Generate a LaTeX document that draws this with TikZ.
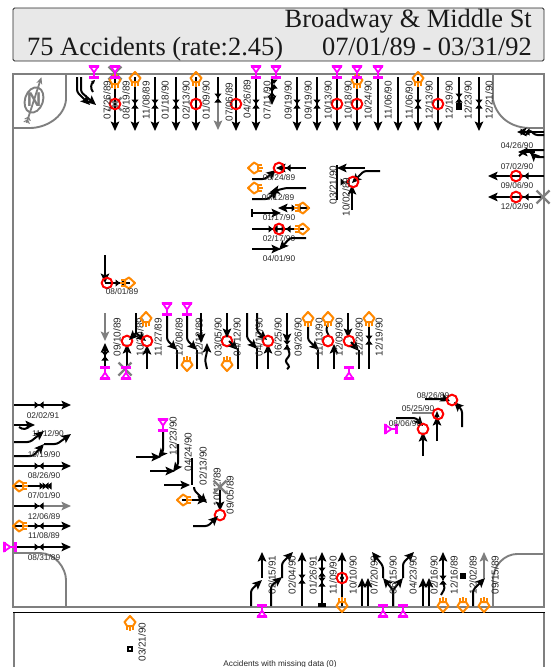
\documentclass[tikz,border=0pt]{standalone}
\usepackage{fontspec}
\setmainfont{Liberation Sans}
\newfontfamily\ttlfont{Liberation Serif}
\usetikzlibrary{arrows.meta}
\definecolor{og}{HTML}{FF8800}
\definecolor{mg}{HTML}{FF00FF}
\definecolor{fr}{HTML}{7F7F7F}
\newcounter{lb}
\tikzset{
 pl/.style={line width=2pt,black,rounded corners=2.5pt},
 ac/.style={pl,-{Stealth[length=9.5pt,width=8.5pt,inset=2pt]}},
 gac/.style={line width=2pt,fr,-{Stealth[length=9.5pt,width=8.5pt,inset=2pt]}},
 frame/.style={line width=1.9pt,fr},
 rlab/.style={inner sep=0pt,rotate=90,font=\fontsize{10}{10}\selectfont,text=black!85},
 hlab/.style={inner sep=0pt,font=\fontsize{8.3}{9}\selectfont,text=black!85},
 ttl/.style={inner sep=0pt,font=\ttlfont\fontsize{26.4}{26}\selectfont,text=black!90},
}
\newcommand\myRL[3]{\stepcounter{lb}\node[rlab] (r\thelb) at (#1,#2) {#3};}
\newcommand\myHL[3]{\stepcounter{lb}\node[hlab] (h\thelb) at (#1,#2) {#3};}
\newcommand\myTV[2]{\fill[black] (#1-3.6,#2-4.5) -- (#1+3.6,#2-4.5) -- (#1,#2) -- cycle (#1-3.6,#2+4.5) -- (#1+3.6,#2+4.5) -- (#1,#2) -- cycle;}
\newcommand\myTH[2]{\fill[black] (#1-4.5,#2-3.6) -- (#1-4.5,#2+3.6) -- (#1,#2) -- cycle (#1+4.5,#2-3.6) -- (#1+4.5,#2+3.6) -- (#1,#2) -- cycle;}
\newcommand\myRC[2]{\draw[red,line width=2pt] (#1,#2) circle[radius=5.3pt];}
\newcommand\myGX[2]{\draw[fr,line width=2.2pt] (#1-6.5,#2-6.5) -- (#1+6.5,#2+6.5) (#1-6.5,#2+6.5) -- (#1+6.5,#2-6.5);}
\newcommand\myOG[3]{\begin{scope}[shift={(#1,#2)},rotate=#3]
 \draw[og,line width=2pt,line join=round] (0,-8) -- (5.5,-2) -- (3,2) -- (-3,2) -- (-5.5,-2) -- cycle;
 \draw[og,line width=2.2pt] (-3,2) -- (-3,6) (0,2) -- (0,7) (3,2) -- (3,6);
 \end{scope}}
\newcommand\myPM[3]{\begin{scope}[shift={(#1,#2)},rotate=#3]
 \draw[mg,line width=1.8pt] (-4,-5.5) -- (4,-5.5) -- (0,0.5) -- cycle;
 \draw[mg,line width=1.3pt] (0,0) -- (0,5);
 \draw[mg,line width=2.2pt] (-5,5.5) -- (5,5.5) (-5,-5.5) -- (5,-5.5);
 \end{scope}}
\begin{document}
\begin{tikzpicture}[x=1pt,y=-1pt]
\useasboundingbox (0,0) rectangle (552,667);
% title
\draw[fill=black!9,draw=black!85,line width=0.8pt,rounded corners=1.5pt] (13,8) rectangle (544,61);
\node[anchor=base east,ttl] (ta) at (532,27) {Broadway \& Middle St};
\node[anchor=base west,ttl] (tb) at (27,55) {75 Accidents (rate:2.45)};
\node[anchor=base east,ttl] (tc) at (532,55) {07/01/89 - 03/31/92};
% frame
\draw[frame] (13,74) rectangle (544,607);
\draw[frame] (66,74) -- (66,100) .. controls (64,118) and (45,128) .. (30,128) -- (13,128);
\draw[frame] (493,74) -- (493,100) .. controls (497,118) and (512,128) .. (530,128) -- (544,128);
\draw[frame] (13,553) -- (40,553) .. controls (55,553) and (66,568) .. (66,580) -- (66,607);
\draw[frame] (544,554) -- (517,554) .. controls (505,554) and (493,565) .. (493,580) -- (493,607);
% lower box
\draw[frame] (14,612) -- (14,667) (544,612) -- (544,667);
\draw[black,line width=0.9pt] (13,612) -- (545,612);
\node[inner sep=0pt,font=\fontsize{8.2}{9}\selectfont,text=black!85] (miss) at (280,664) {Accidents with missing data (0)};
% north sign
\begin{scope}[shift={(34,100)},rotate=-18]
\draw[fr,line width=1.9pt] (0,0) ellipse[x radius=9pt,y radius=13pt];
\draw[fr,line width=1.8pt,-{Stealth[length=7pt,width=6pt]}] (0,24) -- (0,-24);
\draw[fr,line width=1pt] (-3,21) -- (0,18) -- (3,21) (-3,24) -- (0,21) -- (3,24);
\node[inner sep=0pt,text=fr,font=\bfseries\fontsize{20}{20}\selectfont] (north) at (0,0) {N};
\end{scope}
% top columns
\foreach \x in {115,135,155,176,196,236,256,297,317,337,357,378,398,418,438,479} {\draw[ac] (\x,77) -- (\x,131);}
\foreach \x in {135,155,176,256,297,317,418,479} {\myTV{\x}{104}}
\draw[pl] (218,77) -- (218,100); \draw[gac] (218,98) -- (218,130); \myTV{218}{98}
\draw[ac] (272,77) -- (272,105); \myTV{272}{92} \myTV{274}{84}
\draw[pl] (459,77) -- (459,104); \myTV{459}{98} \fill[black] (456,103) rectangle (462,110);
\draw[ac] (77,77) -- (77,92) -- (90,105);
\draw[ac] (81,77) -- (81,92) -- (96,105);
\draw[pl,-{Stealth[length=4pt,width=4pt]}] (93,92) .. controls (90,88) and (91,84) .. (95,80);
\myGX{115}{73} \myGX{115}{104}
\foreach \x in {115,196,236,337,357,438} {\myRC{\x}{104}}
\fill[black] (115,104) circle[radius=1.5pt];
\myOG{115}{82}{0} \myOG{135}{80}{0} \myOG{196}{80}{0} \myOG{357}{82}{0} \myOG{418}{80}{0}
\foreach \x in {94,115,256,276,337,357,378} {\myPM{\x}{72}{0}}
\myRL{107}{100}{07/26/89} \myRL{126}{100}{08/19/89} \myRL{146}{100}{11/08/89} \myRL{165}{100}{01/18/90}
\myRL{186}{100}{02/13/90} \myRL{206}{100}{01/09/90} \myRL{229}{102}{07/06/89} \myRL{247}{99}{04/26/89}
\myRL{267}{100}{07/11/90} \myRL{288}{100}{09/19/90} \myRL{308}{100}{09/19/90} \myRL{328}{100}{10/13/90}
\myRL{348}{100}{10/18/90} \myRL{368}{100}{10/24/90} \myRL{388}{100}{11/06/90} \myRL{409}{100}{11/06/90}
\myRL{429}{100}{12/13/90} \myRL{449}{100}{12/19/90} \myRL{468}{100}{12/23/90} \myRL{489}{100}{12/21/90}
% right cluster
\draw[ac] (544,132) -- (517,132); \myTH{525}{132}
\draw[pl] (544,135) -- (535,135) -- (530,130) -- (526,135);
\draw[pl] (544,150) -- (526,150) -- (519,156);
\draw[ac] (535,152) -- (518,152);
\draw[ac] (544,157) -- (535,157) -- (530,152);
\draw[ac] (544,176) -- (488,176);
\draw[ac] (544,197) -- (488,197); \myTH{524}{176} \myTH{524}{197}
\myRC{516}{176} \myRC{516}{197} \myGX{543}{197}
\myHL{517}{146}{04/26/90} \myHL{517}{167}{07/02/90} \myHL{517}{186}{09/06/90} \myHL{517}{207}{12/02/90}
% centre-top cluster
\draw[ac] (306,168) -- (276,168); \myTH{286}{168}
\draw[ac] (252,179) -- (265,179) -- (276,170);
\myRC{279}{168} \myOG{256}{168}{90} \myHL{279}{178}{08/24/89}
\draw[ac] (306,188) -- (286,188) -- (270,192);
\draw[ac] (252,199) -- (268,199) -- (278,190);
\myOG{256}{188}{90} \myHL{278}{198}{09/12/89}
\draw[ac] (252,213) -- (281,213); \draw[pl] (252,209) -- (252,217);
\draw[ac] (310,208) -- (278,208); \myTH{296}{208}
\myOG{301}{208}{-90} \myHL{279}{218}{01/17/90}
\draw[pl] (252,229) -- (304,229); \myTH{273}{229} \myTH{286}{229}
\myRC{279}{229} \myOG{301}{229}{-90} \myHL{279}{239}{02/17/90}
\draw[ac] (252,249) -- (281,249);
\draw[ac] (306,238) -- (290,238) -- (279,250);
\myHL{279}{259}{04/01/90}
\draw[ac] (365,168) -- (337,168);
\draw[pl] (337,165) -- (337,200);
\draw[ac] (380,171) -- (364,171) -- (352,183);
\draw[ac] (352,210) -- (352,185);
\myTH{345}{182} \myRC{353}{182}
\myRL{333}{185}{03/21/90} \myRL{346}{197}{10/02/89}
% mid-left
\draw[ac] (105,255) -- (105,283);
\draw[pl] (105,283) -- (130,283); \myTH{120}{283}
\myRC{107}{283} \myOG{127}{283}{-90} \myHL{122}{292}{08/01/89}
% middle row
\draw[gac] (105,313) -- (105,341); \draw[ac] (105,369) -- (105,343); \myTV{105}{356}
\myPM{105}{373}{180} \myRL{117}{337}{09/10/89}
\draw[ac] (127,369) -- (127,344); \myRC{127}{341} \myGX{125}{369} \myPM{126}{373}{180}
\myRL{140}{337}{10/30/89}
\draw[line width=2.5pt] (136,313) -- (136,333);
\draw[ac] (136,333) -- (129,340);
\draw[ac] (136,333) -- (146,341);
\draw[ac] (147,369) -- (147,345); \myRC{147}{341} \myOG{146}{320}{0}
\myRL{158}{337}{11/27/89}
\draw[ac] (167,314) -- (167,340) -- (177,350); \draw[pl] (177,369) -- (177,350);
\myPM{167}{309}{0} \myRL{179}{337}{12/08/89}
\draw[ac] (187,314) -- (187,340) -- (197,350); \draw[pl] (197,369) -- (197,350);
\myPM{187}{309}{0} \myOG{187}{363}{180} \myRL{199}{337}{12/12/89}
\draw[ac] (201,313) -- (201,343); \draw[ac] (207,369) -- (205,360) -- (207,352) -- (207,343);
\myRC{227}{341} \draw[ac] (227,313) -- (227,338);
\draw[ac] (229,341) -- (238,350); \draw[pl] (238,369) -- (238,348);
\myOG{227}{363}{180} \myRL{218}{337}{03/05/90} \myRL{237}{337}{04/12/90}
\draw[ac] (247,313) -- (247,338) -- (257,349); \draw[pl] (257,369) -- (257,348);
\draw[ac] (257,313) -- (257,331) -- (267,340); \draw[ac] (268,369) -- (268,344); \myRC{268}{341}
\myRL{259}{337}{04/17/90} \myRL{278}{337}{06/25/90}
\draw[ac] (287,313) -- (287,343); \myTV{287}{345}
\draw[pl] (287,345) -- (290,355) -- (285,361) -- (290,367) -- (287,369);
\myRL{298}{337}{09/26/90}
\draw[ac] (308,325) -- (308,340) -- (319,350); \draw[pl] (318,369) -- (318,350);
\myOG{308}{320}{0} \myRL{319}{337}{11/13/90}
\draw[pl] (328,324) -- (326,330) -- (329,336); \myOG{328}{320}{0} \myRC{328}{341}
\draw[ac] (334,369) -- (334,344); \myRL{339}{337}{12/09/90}
\draw[ac] (348,313) -- (348,338); \myRC{349}{341}
\draw[ac] (351,342) -- (359,351); \draw[pl] (359,369) -- (359,350);
\myPM{349}{373}{180} \myRL{359}{337}{12/28/90}
\draw[pl] (369,325) -- (369,369); \myTV{369}{340} \myOG{369}{320}{0} \myRL{379}{337}{12/19/90}
% east-middle cluster
\draw[pl,fr] (412,413) -- (432,413);
\draw[ac] (425,399) -- (445,399) -- (450,401);
\draw[ac] (462,427) -- (462,410) -- (454,402);
\myRC{452}{400} \myHL{433}{396}{08/26/89}
\draw[ac] (437,441) -- (437,416); \fill[black] (437,411) -- (439.5,417) -- (434.5,417) -- cycle;
\myRC{438}{414} \myHL{418}{409}{05/25/90}
\draw[ac] (396,418) -- (416,418) -- (423,426);
\draw[ac] (423,456) -- (423,432); \myRC{423}{429}
\myPM{391}{429}{90} \myHL{405}{424}{08/06/90}
% west side rows
\draw[ac] (14,405) -- (71,405); \myTH{39}{405} \myHL{43}{416}{02/02/91}
\draw[ac] (14,425) -- (35,425); \draw[pl] (19,427) .. controls (23,430) and (26,429) .. (29,427); \myHL{48}{434}{11/12/90}
\draw[ac] (14,442) -- (30,442) -- (44,431);
\draw[ac] (14,456) -- (33,456) -- (44,444);
\draw[ac] (44,444) -- (57,444) -- (71,434); \myHL{44}{455}{10/19/90}
\draw[ac] (14,466) -- (71,466); \myTH{39}{466} \myHL{44}{476}{08/26/90}
\draw[pl] (14,486) -- (42,486); \myTH{44}{486} \myTH{47}{486} \myOG{21}{486}{90} \myHL{44}{496}{07/01/90}
\draw[pl] (14,506) -- (39,506); \draw[gac] (39,506) -- (71,506); \myTH{39}{506} \myHL{44}{517}{12/06/89}
\draw[ac] (14,526) -- (71,526); \myTH{39}{526} \myOG{21}{526}{90} \myHL{44}{536}{11/08/89}
\draw[ac] (14,547) -- (71,547); \myTH{39}{547} \myPM{10}{547}{90} \myHL{44}{558}{08/31/89}
% stair cluster
\draw[ac] (136,457) -- (161,457);
\draw[ac] (163,431) -- (163,452) -- (158,458);
\myPM{163}{425}{0} \myRL{173}{436}{12/23/90}
\draw[ac] (150,471) -- (175,471);
\draw[ac] (178,444) -- (178,465) -- (173,472);
\myRL{188}{452}{04/24/90}
\draw[ac] (164,485) -- (190,485);
\draw[pl] (192,458) -- (192,485);
\myRL{203}{466}{02/13/90}
\draw[ac] (182,500) -- (207,500);
\draw[ac] (194,487) -- (194,490) -- (207,503);
\myOG{185}{500}{90}
\myRL{217}{487}{10/12/89} \myRL{230}{495}{09/05/89}
\myGX{220}{487}
\draw[ac] (220,490) -- (220,511); \myRC{220}{515}
\draw[ac] (193,526) -- (208,526) -- (218,516);
% south columns
\draw[ac] (262,578) -- (262,552);
\draw[ac] (251,606) -- (251,590) -- (262,580);
\myRL{272}{575}{02/15/91}
\draw[ac] (271,606) -- (271,586) -- (282,577);
\draw[ac] (282,578) -- (282,563) -- (293,552);
\myRL{292}{575}{02/04/90}
\draw[ac] (302,606) -- (302,552); \myTV{302}{579} \myRL{313}{575}{01/26/91}
\draw[ac] (322,606) -- (322,552); \myTV{322}{572} \myTV{322}{582}
\fill[black] (318,603) rectangle (326,607); \myRL{333}{575}{11/09/90}
\draw[ac] (342,606) -- (342,552); \myRC{342}{578} \fill[black] (342,578) circle[radius=2pt];
\myOG{342}{604}{180} \myRL{353}{575}{10/10/90}
\draw[ac] (362,606) -- (362,578); \draw[ac] (368,606) -- (368,578); \myRL{374}{575}{07/20/90}
\draw[ac] (393,606) -- (393,590) -- (383,578);
\draw[ac] (383,578) -- (383,566) -- (372,552);
\draw[ac] (393,606) -- (393,590) -- (403,578);
\draw[ac] (403,578) -- (403,563) -- (414,552);
\myRL{393}{575}{06/15/90} \myRL{413}{575}{04/23/90}
\draw[ac] (423,606) -- (423,578); \draw[ac] (429,606) -- (429,578); \myRL{434}{575}{02/16/90}
\draw[ac] (443,580) -- (443,552); \myTV{443}{580}
\draw[pl] (443,583) -- (445,588) -- (441,595);
\myOG{443}{604}{180} \myRL{454}{575}{12/16/89}
\fill[black] (460,573) rectangle (466,579);
\myOG{463}{604}{180}
\myRL{473}{575}{12/02/89}
\draw[ac] (473,606) -- (473,590) -- (485,578);
\draw[gac] (484,578) -- (484,552);
\myOG{484}{604}{180} \myRL{495}{575}{09/15/89}
\myPM{262}{611}{180} \myPM{383}{611}{180} \myPM{403}{611}{180}
% lower box items
\myOG{130}{624}{0}
\draw[black,line width=1.6pt] (128,647) rectangle (132,651);
\myRL{142}{642}{03/21/90}
\end{tikzpicture}
\end{document}
